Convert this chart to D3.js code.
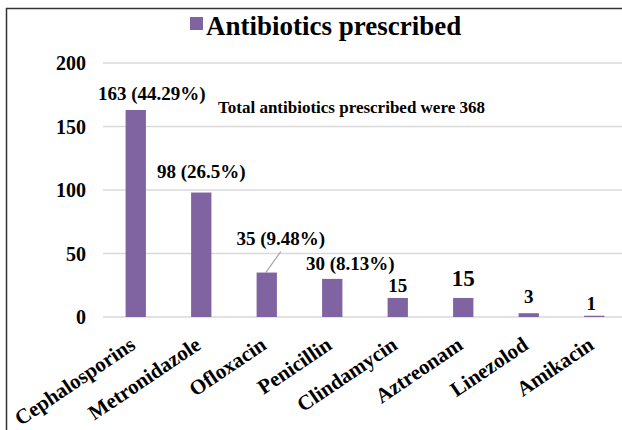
<!DOCTYPE html>
<html>
<head>
<meta charset="utf-8">
<script src="https://cdn.jsdelivr.net/npm/d3@7"></script>
<style>
    body { margin: 0; background: #fff; }
    svg text { font-family: "Liberation Serif", "Times New Roman", serif; font-weight: bold; fill: #000; }
</style>
</head>
<body>
<div class="graph"></div>
<script>
    const categories = ["Cephalosporins", "Metronidazole", "Ofloxacin", "Penicillin",
        "Clindamycin", "Aztreonam", "Linezolod", "Amikacin"];
    const counts = [163, 98, 35, 30, 15, 15, 3, 1];
    const valueLabels = ["163 (44.29%)", "98 (26.5%)", "35 (9.48%)", "30 (8.13%)", "15", "15", "3", "1"];
    const yTicks = [0, 50, 100, 150, 200];
    const seriesName = "Antibiotics prescribed";
    const note = "Total antibiotics prescribed were 368";

    // manual label nudges (dx, dy from bar top), like Excel's dragged labels
    const labelDx = [16, 0, 14, 18, 0, 0, 0, -3];
    const labelDy = [-10, -15, -28, -9, -6, -12, -10, -6];
    const labelSize = [19, 19, 19, 19, 19, 23, 19, 19];

    const width = 622, height = 430;
    const color = "#8064a2";
    const serif = "'Liberation Serif', 'Times New Roman', serif";

    const svg = d3.select(".graph").append("svg")
        .attr("width", width)
        .attr("height", height)
        .attr("font-family", serif)
        .attr("font-weight", "bold");

    // chart area border (cropped at right/bottom)
    svg.append("path")
        .attr("d", "M6.5," + height + "V8.5H" + width)
        .attr("fill", "none")
        .attr("stroke", "#333")
        .attr("stroke-width", 1.5);

    const x = d3.scaleBand()
        .domain(categories)
        .range([103, 627])
        .paddingInner(0.69)
        .paddingOuter(0.345);

    const y = d3.scaleLinear()
        .domain([0, 200])
        .range([317, 63]);

    // gridlines
    svg.append("g")
        .selectAll("line")
        .data(yTicks)
        .join("line")
        .attr("x1", 103)
        .attr("x2", width)
        .attr("y1", d => y(d))
        .attr("y2", d => y(d))
        .attr("stroke", "#d9d9d9")
        .attr("stroke-width", 1.5);

    // y labels
    svg.append("g")
        .selectAll("text")
        .data(yTicks)
        .join("text")
        .attr("x", 86)
        .attr("y", d => y(d))
        .attr("dy", "0.35em")
        .attr("text-anchor", "end")
        .attr("font-family", serif)
        .style("font-size", "20px")
        .text(d => d);

    // bars
    svg.append("g")
        .selectAll("rect")
        .data(counts)
        .join("rect")
        .attr("x", (d, i) => x(categories[i]))
        .attr("width", x.bandwidth())
        .attr("y", d => y(d))
        .attr("height", d => y(0) - y(d))
        .attr("fill", color);

    // leader line for Ofloxacin label
    const ofx = x(categories[2]) + x.bandwidth() / 2;
    svg.append("line")
        .attr("x1", ofx - 1)
        .attr("y1", y(counts[2]))
        .attr("x2", ofx + 14)
        .attr("y2", y(counts[2]) - 21)
        .attr("stroke", "#a6a6a6")
        .attr("stroke-width", 1.2);

    // value labels
    svg.append("g")
        .selectAll("text")
        .data(counts)
        .join("text")
        .attr("x", (d, i) => x(categories[i]) + x.bandwidth() / 2 + labelDx[i])
        .attr("y", (d, i) => y(d) + labelDy[i])
        .attr("text-anchor", "middle")
        .attr("font-family", serif)
        .style("font-size", (d, i) => labelSize[i] + "px")
        .text((d, i) => valueLabels[i]);

    // category labels
    svg.append("g")
        .selectAll("text")
        .data(categories)
        .join("text")
        .attr("transform", d => "translate(" + (x(d) + x.bandwidth() / 2 + 1) + ",348) rotate(-34)")
        .attr("text-anchor", "end")
        .attr("font-family", serif)
        .style("font-size", "21px")
        .text(d => d);

    // legend
    const legend = svg.append("g");
    legend.append("rect")
        .attr("x", 190)
        .attr("y", 17)
        .attr("width", 13)
        .attr("height", 13)
        .attr("fill", color);
    legend.append("text")
        .attr("x", 206)
        .attr("y", 35)
        .attr("font-family", serif)
        .style("font-size", "27px")
        .text(seriesName);

    // note
    svg.append("text")
        .attr("x", 218)
        .attr("y", 113)
        .attr("font-family", serif)
        .style("font-size", "17px")
        .text(note);
</script>
</body>
</html>
